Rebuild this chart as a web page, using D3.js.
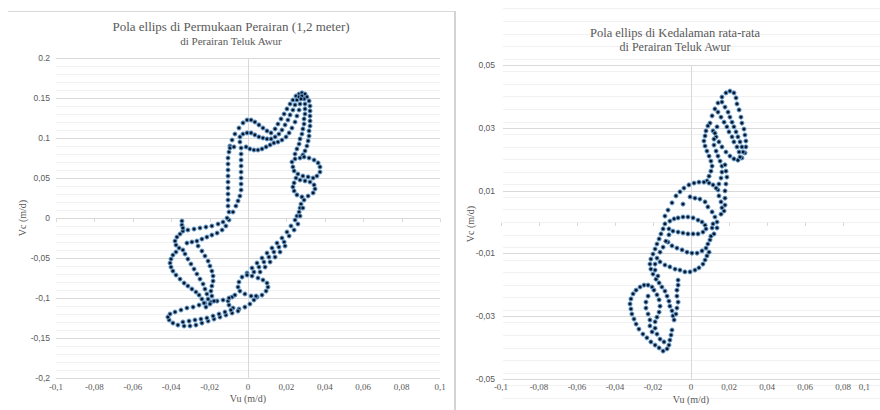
<!DOCTYPE html>
<html><head><meta charset="utf-8">
<script src="https://cdn.jsdelivr.net/npm/d3@7"></script>
<style>html,body{margin:0;padding:0;background:#fff;}svg{display:block;}
.serif{font-family:"Liberation Serif","DejaVu Serif",serif;}
.sans{font-family:"Liberation Sans","DejaVu Sans",sans-serif;}
</style>
</head><body>
<svg id="c" width="880" height="410"></svg>
<script>
// ---------- DATA ----------
const leftTitle = "Pola ellips di Permukaan Perairan (1,2 meter)";
const rightTitle = "Pola ellips di Kedalaman rata-rata";
const subTitle = "di Perairan Teluk Awur";
const xTitle = "Vu (m/d)";
const yTitle = "Vc (m/d)";

const xTicks = [-0.1,-0.08,-0.06,-0.04,-0.02,0,0.02,0.04,0.06,0.08,0.1];
const xTickLabels = ["-0,1","-0,08","-0,06","-0,04","-0,02","0","0,02","0,04","0,06","0,08","0,1"];
const leftYTicks = [0.2,0.15,0.1,0.05,0,-0.05,-0.1,-0.15,-0.2];
const leftYTickLabels = ["0.2","0.15","0.1","0,05","0","-0,05","-0,1","-0,15","-0,2"];
const rightYTicks = [0.05,0.03,0.01,-0.01,-0.03,-0.05];
const rightYTickLabels = ["0,05","0,03","0,01","-0,01","-0,03","-0,05"];

// Left chart: surface (u, v) pairs
const leftPoints = [
[-0.0099,0.0075],[-0.0104,0.015],[-0.0104,0.0225],[-0.0104,0.03],[-0.0104,0.0375],[-0.0104,0.045],[-0.0104,0.0525],[-0.0104,0.06],[-0.0104,0.0675],[-0.0104,0.075],[-0.0099,0.0825],[-0.0094,0.09],[-0.0083,0.0975],[-0.0068,0.105],[-0.0047,0.1125],[-0.0026,0.1188],[-0.0005,0.1225],[0.0016,0.1225],[0.0036,0.12],[0.0057,0.1163],[0.0078,0.1125],[0.0099,0.1088],[0.012,0.1063],[0.0141,0.1113],[0.0156,0.1175],[0.0172,0.1238],[0.0188,0.13],[0.0203,0.1363],[0.0219,0.1425],[0.0234,0.1475],[0.025,0.1525],[0.0266,0.155],[0.0281,0.1563],[0.0297,0.155],[0.0307,0.1513],[0.0318,0.1463],[0.0323,0.14],[0.0323,0.1338],[0.0323,0.1275],[0.0323,0.1213],[0.0323,0.115],[0.0318,0.1088],[0.0318,0.1025],[0.0313,0.0963],[0.0307,0.09],[0.0297,0.0838],[0.0286,0.0788],
[-0.0063,0.015],[-0.0052,0.0213],[-0.0042,0.0275],[-0.0036,0.035],[-0.0036,0.0425],[-0.0036,0.05],[-0.0036,0.0575],[-0.0036,0.065],[-0.0036,0.0725],[-0.0036,0.08],[-0.0036,0.0875],[-0.0042,0.095],[-0.0042,0.1013],[-0.0026,0.105],[-0.0005,0.1063],[0.0016,0.1063],[0.0036,0.1038],[0.0057,0.1013],[0.0078,0.1],[0.0099,0.0988],[0.012,0.0988],[0.0141,0.1013],[0.0161,0.105],[0.0177,0.11],[0.0193,0.1163],[0.0208,0.1225],[0.0219,0.1288],[0.0234,0.135],[0.0245,0.1413],[0.0255,0.1475],[0.0266,0.1513],[0.0281,0.1525],[0.0292,0.1488],[0.0297,0.1425],[0.0297,0.1363],[0.0297,0.13],[0.0292,0.1238],[0.0292,0.1175],[0.0286,0.1113],[0.0281,0.105],[0.0271,0.0988],[0.0266,0.0925],[0.0255,0.0863],[0.0245,0.08],
[-0.0094,0.0875],[-0.0073,0.0888],[-0.001,0.0888],[0.001,0.0863],[0.0031,0.085],[0.0052,0.085],[0.0073,0.0863],[0.0094,0.0888],[0.0115,0.0913],[0.0135,0.0938],[0.0156,0.095],[0.0177,0.0975],[0.0198,0.1013],[0.0214,0.1063],[0.0229,0.1125],[0.0245,0.12],[0.0255,0.1275],[0.0266,0.135],[0.0271,0.1425],[0.0276,0.1488],
[0.0271,0.075],[0.0245,0.0738],[0.0229,0.07],[0.0234,0.0638],[0.024,0.0588],[0.026,0.055],[0.0286,0.0525],[0.0313,0.0513],[0.0339,0.05],[0.0359,0.0525],[0.0375,0.0575],[0.0375,0.0638],[0.0365,0.0688],[0.0344,0.0725],[0.0318,0.075],[0.0292,0.0763],
[0.025,0.05],[0.0271,0.0475],[0.0297,0.0463],[0.0323,0.045],[0.0344,0.0413],[0.0349,0.0363],[0.0339,0.0313],[0.0313,0.0275],[0.0281,0.0263],[0.0255,0.0288],[0.024,0.0338],[0.0234,0.0388],[0.024,0.0438],
[0.0292,0.0225],[0.0276,0.0175],[0.0271,0.0125],[0.0266,0.0075],[0.0255,0.0025],
[0.0245,-0.0025],[0.0224,-0.01],[0.0203,-0.0175],[0.0177,-0.025],[0.0151,-0.0313],[0.0125,-0.0375],[0.0099,-0.0438],[0.0073,-0.05],[0.0047,-0.0563],[0.0021,-0.0625],[-0.0005,-0.0688],
[0.0286,0.0125],[0.0271,0.0025],[0.026,-0.0075],[0.024,-0.015],[0.0214,-0.0225],[0.0188,-0.03],[0.0161,-0.0363],[0.0135,-0.0425],[0.0109,-0.0488],[0.0083,-0.055],[0.0057,-0.0613],[0.0031,-0.0675],
[0.0193,-0.035],[0.0167,-0.0425],[0.0141,-0.0488],[0.0115,-0.055],[0.0089,-0.0613],[0.0063,-0.0675],
[-0.0031,-0.0738],[-0.0047,-0.08],[-0.0052,-0.0863],[-0.0042,-0.0913],[-0.0016,-0.095],[0.0016,-0.0975],[0.0047,-0.0988],[0.0073,-0.0963],[0.0094,-0.0913],[0.0104,-0.0863],[0.0099,-0.0813],[0.0078,-0.0775],[0.0052,-0.075],[0.0021,-0.0725],[-0.0005,-0.0713],
[-0.0083,-0.0988],[-0.0104,-0.1038],[-0.0099,-0.1088],[-0.0078,-0.1125],[-0.0047,-0.1138],[-0.0016,-0.1113],[0.001,-0.1075],[0.0031,-0.1025],[0.0042,-0.0975],
[-0.0052,-0.1163],[-0.0083,-0.1188],[-0.0115,-0.1213],[-0.0146,-0.1238],[-0.0177,-0.1263],[-0.0208,-0.1288],[-0.024,-0.1313],[-0.0271,-0.1338],[-0.0302,-0.135],[-0.0333,-0.135],[-0.0365,-0.1338],[-0.0391,-0.1313],[-0.0411,-0.1275],[-0.0417,-0.1238],[-0.0406,-0.12],[-0.038,-0.1175],[-0.0349,-0.115],[-0.0318,-0.1125],[-0.0286,-0.1113],[-0.0255,-0.1088],[-0.0224,-0.1063],[-0.0193,-0.105],[-0.0161,-0.1038],[-0.013,-0.1025],[-0.0099,-0.1],[-0.0068,-0.0963],
[-0.0339,-0.13],[-0.0307,-0.1288],[-0.0276,-0.1275],[-0.0245,-0.1263],[-0.0214,-0.125],[-0.0182,-0.1225],[-0.0151,-0.12],[-0.012,-0.1175],[-0.0089,-0.115],
[-0.0078,0.0075],[-0.0099,-0.0025],[-0.0115,-0.01],
[-0.0109,0],[-0.013,-0.005],[-0.0156,-0.0075],[-0.0188,-0.01],[-0.0219,-0.0113],[-0.025,-0.0125],[-0.0281,-0.0138],[-0.0313,-0.015],[-0.0339,-0.0163],
[-0.0135,-0.015],[-0.0161,-0.0188],[-0.0188,-0.0213],[-0.0214,-0.0238],[-0.024,-0.0263],[-0.0266,-0.0288],[-0.0292,-0.03],[-0.0318,-0.0313],
[-0.0344,-0.0038],[-0.0344,-0.0088],[-0.0339,-0.0125],
[-0.0354,-0.02],[-0.037,-0.0238],[-0.038,-0.0288],[-0.0375,-0.0338],[-0.0359,-0.0375],[-0.0339,-0.04],
[-0.0375,-0.0425],[-0.0391,-0.0463],[-0.0401,-0.0513],[-0.0406,-0.0563],[-0.0401,-0.0613],[-0.0391,-0.0663],[-0.0375,-0.0713],[-0.0354,-0.0763],[-0.0333,-0.0813],[-0.0313,-0.085],[-0.0292,-0.0888],[-0.0271,-0.0925],[-0.0255,-0.0963],[-0.024,-0.1013],[-0.0229,-0.1063],[-0.0219,-0.1113],
[-0.0328,-0.045],[-0.0313,-0.0513],[-0.0297,-0.0575],[-0.0281,-0.0638],[-0.0266,-0.07],[-0.025,-0.0763],[-0.0234,-0.0825],[-0.0224,-0.0888],[-0.0214,-0.095],[-0.0208,-0.1013],[-0.0198,-0.1075],
[-0.026,-0.035],[-0.024,-0.0413],[-0.0224,-0.0475],[-0.0208,-0.0538],[-0.0198,-0.06],[-0.0188,-0.0663],[-0.0182,-0.0725],[-0.0182,-0.0788],[-0.0188,-0.085],[-0.0193,-0.0913],[-0.0188,-0.0975],[-0.0177,-0.1038]
];

// Right chart: depth-averaged (u, v) pairs
const rightPoints = [
[0.01,0.0315],[0.0111,0.0338],[0.0126,0.036],[0.0142,0.0379],[0.0163,0.0398],[0.0184,0.0411],[0.0205,0.0417],[0.0226,0.0411],[0.0237,0.0395],[0.0242,0.0376],[0.0253,0.0357],[0.0263,0.0334],[0.0268,0.0315],[0.0279,0.0296],[0.0284,0.0277],[0.0289,0.0258],[0.0289,0.0239],[0.0284,0.022],[0.0268,0.0204],[0.0247,0.0197],[0.0226,0.0201],[0.0205,0.021],[0.0184,0.0223],[0.0163,0.0239],[0.0147,0.0255],[0.0132,0.0271],[0.0116,0.029],
[0.0163,0.0382],[0.0179,0.0366],[0.0195,0.035],[0.0205,0.0334],[0.0216,0.0318],[0.0226,0.0303],[0.0237,0.0287],[0.0247,0.0271],[0.0258,0.0255],[0.0268,0.0239],[0.0274,0.0223],
[0.0142,0.035],[0.0158,0.0334],[0.0174,0.0318],[0.0189,0.0303],[0.02,0.0287],[0.0216,0.0271],[0.0226,0.0255],[0.0242,0.0239],[0.0253,0.0223],[0.0258,0.0207],
[0.0089,0.0306],[0.0079,0.029],[0.0074,0.0274],[0.0068,0.0258],[0.0074,0.0242],[0.0084,0.0226],[0.0095,0.021],[0.0105,0.0194],[0.0111,0.0178],[0.0105,0.0162],[0.0095,0.0146],[0.0084,0.0131],
[0.0137,0.0303],[0.0126,0.0283],[0.0121,0.0264],[0.0121,0.0245],[0.0132,0.0226],[0.0142,0.021],[0.0153,0.0194],[0.0163,0.0178],[0.0163,0.0159],[0.0158,0.014],[0.0147,0.0121],[0.0142,0.0102],[0.0147,0.0083],[0.0158,0.0064],[0.0163,0.0045],[0.0158,0.0025],
[0.0179,0.0182],[0.0184,0.0162],[0.0189,0.0143],[0.0184,0.0121],[0.0179,0.0099],[0.0179,0.0076],[0.0179,0.0054],[0.0174,0.0035],
[-0.0079,0.0083],[-0.0058,0.0096],[-0.0037,0.0108],[-0.0011,0.0118],[0.0016,0.0124],[0.0042,0.0127],[0.0068,0.0127],[0.0095,0.0124],[0.0116,0.0118],[0.0132,0.0108],
[-0.0005,0.008],[0.0021,0.0076],[0.0047,0.0073],[0.0074,0.0064],[0.0089,0.0048],[0.0111,0.0032],[0.0126,0.0016],[0.0137,0],
[-0.01,0.0061],[-0.0121,0.0038],[-0.0137,0.0019],[-0.0042,0.0057],
[-0.0111,0.0003],[-0.0089,0.001],[-0.0068,0.0013],[-0.0042,0.0016],[-0.0016,0.0016],[0.0011,0.0013],[0.0037,0.0006],[0.0058,0],[0.0074,-0.001],[0.0079,-0.0022],[0.0063,-0.0032],[0.0037,-0.0038],[0.0011,-0.0038],[-0.0016,-0.0038],[-0.0042,-0.0035],[-0.0068,-0.0032],[-0.0095,-0.0029],[-0.0116,-0.0022],
[-0.0121,-0.0064],[-0.01,-0.0076],[-0.0074,-0.0083],[-0.0047,-0.0089],[-0.0021,-0.0096],[0.0005,-0.0099],[0.0032,-0.0099],[0.0058,-0.0092],[0.0079,-0.0083],[0.0089,-0.007],[0.01,-0.0057],[0.0105,-0.0045],
[-0.0163,-0.0127],[-0.0137,-0.0137],[-0.0111,-0.0143],[-0.0084,-0.015],[-0.0058,-0.0153],[-0.0032,-0.0159],[-0.0005,-0.0159],[0.0021,-0.0153],[0.0042,-0.0146],[0.0063,-0.0134],[0.0074,-0.0121],[0.0084,-0.0108],[0.0095,-0.0096],
[0.0111,-0.0019],[0.0137,-0.0019],[0.0121,-0.0038],[0.0116,-0.0006],
[-0.0137,-0.0006],[-0.0147,-0.0022],[-0.0158,-0.0038],[-0.0168,-0.0054],[-0.0179,-0.007],[-0.0189,-0.0086],[-0.02,-0.0102],[-0.0211,-0.0118],[-0.0216,-0.0134],[-0.0211,-0.015],[-0.02,-0.0166],[-0.0184,-0.0182],[-0.0168,-0.0194],[-0.0153,-0.0207],[-0.0137,-0.022],[-0.0126,-0.0236],[-0.0116,-0.0252],[-0.0111,-0.0268],[-0.01,-0.0283],[-0.0095,-0.0299],
[-0.0116,-0.0041],[-0.0132,-0.0061],[-0.0147,-0.008],[-0.0163,-0.0096],[-0.0179,-0.0115],[-0.0189,-0.0134],[-0.0189,-0.0153],[-0.0174,-0.0172],
[-0.0268,-0.0207],[-0.0289,-0.0217],[-0.0305,-0.0229],[-0.0316,-0.0245],[-0.0321,-0.0261],[-0.0316,-0.0277],[-0.0311,-0.0293],[-0.03,-0.0309],[-0.0289,-0.0325],[-0.0274,-0.0341],[-0.0253,-0.0357],[-0.0232,-0.0369],[-0.0211,-0.0382],[-0.0189,-0.0392],[-0.0168,-0.0401],[-0.0147,-0.0411],[-0.0126,-0.0404],[-0.0116,-0.0392],[-0.0111,-0.0376],[-0.0105,-0.036],[-0.01,-0.0344],
[-0.0247,-0.0201],[-0.0226,-0.0201],[-0.0205,-0.0207],
[-0.0195,-0.0217],[-0.0179,-0.0232],[-0.0168,-0.0248],[-0.0163,-0.0268],[-0.0168,-0.0287],[-0.0179,-0.0303],[-0.0189,-0.0318],[-0.0189,-0.0338],[-0.0179,-0.0357],[-0.0163,-0.0373],[-0.0142,-0.0382],
[-0.0226,-0.0236],[-0.0237,-0.0255],[-0.0237,-0.0274],[-0.0226,-0.0293],[-0.0216,-0.0312],[-0.0216,-0.0331],[-0.0205,-0.035],
[-0.0068,-0.0185],[-0.0068,-0.0201],[-0.0074,-0.0217],[-0.0074,-0.0236],[-0.0068,-0.0255],[-0.0074,-0.0274],[-0.0079,-0.0293],[-0.0089,-0.0312]
];

// ---------- DRAW ----------
const svg = d3.select("#c");
const GRID_MAJOR = "#d9d9d9", GRID_MINOR = "#f1f1f1", TXT = "#595959";

// chart frames
svg.append("line").attr("x1",8).attr("x2",455).attr("y1",11.5).attr("y2",11.5).attr("stroke","#d9d9d9").attr("stroke-width",1);
svg.append("line").attr("x1",455).attr("x2",455).attr("y1",11).attr("y2",410).attr("stroke","#d4d4d4").attr("stroke-width",2);

function drawChart(cfg){
  const g = svg.append("g");
  const x = d3.scaleLinear().domain([-0.1,0.1]).range(cfg.xRange);
  const y = d3.scaleLinear().domain(cfg.yDomain).range(cfg.yRange);
  const [x0,x1] = [cfg.gridX0, cfg.gridX1];
  g.selectAll(".mn").data(cfg.minor).join("line")
    .attr("x1",x0).attr("x2",x1).attr("y1",d=>Math.round(y(d))+0.5).attr("y2",d=>Math.round(y(d))+0.5)
    .attr("stroke",GRID_MINOR).attr("stroke-width",1);
  g.selectAll(".mj").data(cfg.yTicks).join("line")
    .attr("x1",x0).attr("x2",x1).attr("y1",d=>Math.round(y(d))+0.5).attr("y2",d=>Math.round(y(d))+0.5)
    .attr("stroke",GRID_MAJOR).attr("stroke-width",1);
  g.append("line").attr("x1",Math.round(x(0))+0.5).attr("x2",Math.round(x(0))+0.5)
    .attr("y1",y(cfg.yDomain[1])).attr("y2",y(cfg.yDomain[0])).attr("stroke",GRID_MAJOR);
  g.selectAll(".tk").data(xTicks).join("line")
    .attr("x1",d=>Math.round(x(d))+0.5).attr("x2",d=>Math.round(x(d))+0.5)
    .attr("y1",Math.round(y(0))+0.5).attr("y2",Math.round(y(0))+4)
    .attr("stroke",GRID_MAJOR);
  g.selectAll(".yl").data(cfg.yTicks).join("text").attr("class","sans")
    .attr("x",cfg.yLabelX).attr("y",d=>y(d)+3).attr("text-anchor","end")
    .attr("font-size",8.5).attr("fill",TXT)
    .text((d,i)=>cfg.yLabels[i]);
  g.selectAll(".xl").data(xTicks).join("text").attr("class","serif")
    .attr("x",d=>Math.min(x(d), cfg.xLabelMax)).attr("y",cfg.xLabelY)
    .attr("text-anchor",d=>x(d)>cfg.xLabelMax?"end":"middle")
    .attr("font-size",9).attr("fill",TXT)
    .text((d,i)=>xTickLabels[i]);
  g.append("text").attr("class","serif").attr("x",x(0)).attr("y",cfg.xTitleY).attr("text-anchor","middle")
    .attr("font-size",10).attr("fill",TXT).text(xTitle);
  g.append("text").attr("class","serif").attr("transform",`translate(${cfg.yTitleX},${cfg.yTitleY}) rotate(-90)`)
    .attr("text-anchor","middle").attr("font-size",10).attr("fill",TXT).text(yTitle);
  g.append("text").attr("class","serif").attr("x",cfg.titleX).attr("y",cfg.titleY).attr("text-anchor","middle")
    .attr("font-size",cfg.titleSize).attr("fill",TXT).text(cfg.title);
  g.append("text").attr("class","serif").attr("x",cfg.titleX).attr("y",cfg.subY).attr("text-anchor","middle")
    .attr("font-size",cfg.subSize).attr("fill",TXT).text(subTitle);
  g.selectAll(".pt").data(cfg.points).join("circle")
    .attr("cx",d=>x(d[0])).attr("cy",d=>y(d[1])).attr("r",2.1)
    .attr("fill","#0b1626").attr("stroke","#6fa8dc").attr("stroke-width",1);
}

drawChart({
  xRange:[56,440], yDomain:[-0.2,0.2], yRange:[378,58], gridX0:56, gridX1:440, xLabelMax:446,
  minor: d3.range(-20,21).map(k=>k/100), yTicks:leftYTicks, yLabels:leftYTickLabels,
  yLabelX:50, xLabelY:390, xTitleY:402, yTitleX:26, yTitleY:218,
  title:leftTitle, titleX:231, titleY:31, titleSize:13, subY:45, subSize:11,
  points:leftPoints
});
drawChart({
  xRange:[501,881], yDomain:[-0.05,0.05], yRange:[379,65], gridX0:503, gridX1:880, xLabelMax:870,
  minor: d3.range(-25,26).map(k=>k*0.004), yTicks:rightYTicks, yLabels:rightYTickLabels,
  yLabelX:495, xLabelY:390, xTitleY:403, yTitleX:474, yTitleY:224,
  title:rightTitle, titleX:675, titleY:37, titleSize:12.5, subY:51, subSize:12,
  points:rightPoints
});
</script>
</body></html>
